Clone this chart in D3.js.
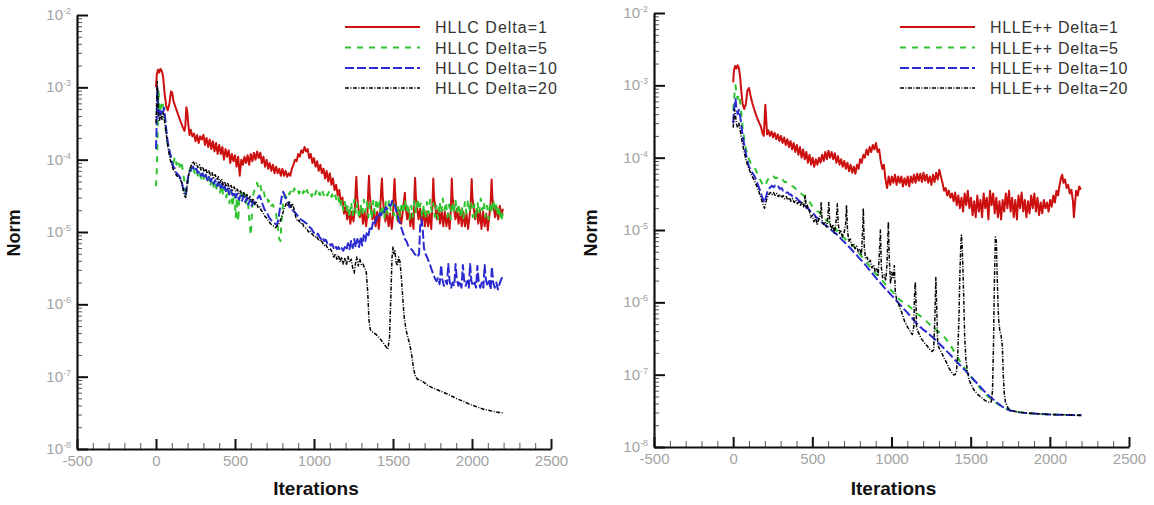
<!DOCTYPE html>
<html>
<head>
<meta charset="utf-8">
<script src="https://cdn.jsdelivr.net/npm/d3@7"></script>
<style>
  html, body { margin: 0; padding: 0; background: #fff; }
  svg { display: block; }
</style>
</head>
<body>
<svg id="chart" width="1154" height="505"></svg>
<script>
// ---------------- DATA ----------------
const xTicksMajor = [-500, 0, 500, 1000, 1500, 2000, 2500];
const yDecades = [-8, -7, -6, -5, -4, -3, -2];
const xLabel = "Iterations";
const yLabel = "Norm";
const leftNames = ["HLLC Delta=1", "HLLC Delta=5", "HLLC Delta=10", "HLLC Delta=20"];
const rightNames = ["HLLE++ Delta=1", "HLLE++ Delta=5", "HLLE++ Delta=10", "HLLE++ Delta=20"];

// Left panel series: [iteration, norm]
const hllc1 = [[0,1.0e-3],[5,1.5e-3],[12,1.75e-3],[20,1.6e-3],[28,1.8e-3],[38,1.65e-3],[45,1.4e-3],[55,8e-4],[65,5.5e-4],[75,4.8e-4],[85,6e-4],[95,8.8e-4],[102,8.5e-4],[110,6.5e-4],[125,5.2e-4],[140,4.2e-4],[155,3.4e-4],[170,2.8e-4],[180,2.5e-4],[186,3.0e-4],[192,5.3e-4],[198,4.6e-4],[205,3.0e-4],[212,2.2e-4],[220,2.6e-4],[230,2.1e-4],[240,2.3e-4],[250,1.8e-4],[260,2.2e-4],[270,1.7e-4],[280,2.1e-4],[290,1.9e-4],[300,2.2e-4],[310,1.6e-4],[320,2.0e-4],[330,1.5e-4],[340,1.9e-4],[350,1.4e-4],[360,1.8e-4],[370,1.3e-4],[380,1.7e-4],[390,1.2e-4],[400,1.6e-4],[410,1.2e-4],[420,1.5e-4],[430,1.0e-4],[440,1.4e-4],[450,1.1e-4],[460,1.35e-4],[470,9e-5],[480,1.2e-4],[490,9.5e-5],[500,1.15e-4],[510,8e-5],[520,1.1e-4],[530,6e-5],[540,1.0e-4],[550,8.5e-5],[560,1.1e-4],[570,9e-5],[580,1.15e-4],[590,8.5e-5],[600,1.2e-4],[610,9.5e-5],[620,1.25e-4],[630,1.0e-4],[640,1.3e-4],[650,1.05e-4],[660,1.25e-4],[670,9e-5],[680,1.1e-4],[690,8e-5],[700,1.0e-4],[710,7.5e-5],[720,9e-5],[730,7e-5],[740,8.5e-5],[750,6.5e-5],[760,8e-5],[770,6.5e-5],[780,7.5e-5],[790,6e-5],[800,7.5e-5],[810,6e-5],[820,7e-5],[830,5.8e-5],[840,6.5e-5],[850,6e-5],[860,7.5e-5],[870,8.5e-5],[880,1.0e-4],[890,9.5e-5],[900,1.2e-4],[910,1.1e-4],[920,1.35e-4],[930,1.25e-4],[940,1.5e-4],[950,1.3e-4],[960,1.4e-4],[970,1.05e-4],[980,1.2e-4],[990,9e-5],[1000,1.05e-4],[1010,8e-5],[1020,9.5e-5],[1030,7e-5],[1040,8.5e-5],[1050,6.5e-5],[1060,7.5e-5],[1070,5.5e-5],[1080,7e-5],[1090,5e-5],[1100,6.5e-5],[1110,4.5e-5],[1120,5.5e-5],[1130,3.8e-5],[1140,4.5e-5],[1150,3.2e-5],[1160,3.8e-5],[1170,2.5e-5],[1180,3e-5],[1190,1.8e-5],[1200,2.2e-5],[1210,1.5e-5],[1220,2.0e-5],[1230,1.3e-5],[1240,1.9e-5],[1250,1.4e-5],[1258,2.0e-5],[1264,4e-5],[1268,5.8e-5],[1273,3.2e-5],[1280,2.2e-5],[1290,1.6e-5],[1300,2.1e-5],[1310,1.3e-5],[1320,1.9e-5],[1330,1.2e-5],[1338,1.8e-5],[1344,4e-5],[1348,6e-5],[1353,3.2e-5],[1360,2.3e-5],[1370,1.5e-5],[1380,2.0e-5],[1390,1.2e-5],[1400,1.9e-5],[1410,1.1e-5],[1418,1.8e-5],[1425,3.8e-5],[1430,5.5e-5],[1435,3e-5],[1442,2.2e-5],[1452,1.4e-5],[1462,2.0e-5],[1472,1.2e-5],[1482,1.8e-5],[1492,1.1e-5],[1500,1.7e-5],[1506,3.8e-5],[1510,5.4e-5],[1515,3e-5],[1522,2.1e-5],[1532,1.4e-5],[1542,2e-5],[1552,1.3e-5],[1562,1.9e-5],[1570,2.8e-5],[1575,3.5e-5],[1580,2.2e-5],[1590,1.5e-5],[1600,2e-5],[1610,1.2e-5],[1620,1.8e-5],[1630,1.1e-5],[1636,3.5e-5],[1640,5.6e-5],[1645,3e-5],[1652,2.2e-5],[1662,1.5e-5],[1672,2.1e-5],[1682,1.3e-5],[1692,2e-5],[1702,1.2e-5],[1712,1.9e-5],[1722,1.2e-5],[1732,1.8e-5],[1742,1.1e-5],[1750,2.5e-5],[1755,5.5e-5],[1760,3e-5],[1768,2.2e-5],[1778,1.5e-5],[1788,2.1e-5],[1798,1.3e-5],[1808,2.0e-5],[1818,1.2e-5],[1828,1.9e-5],[1838,1.2e-5],[1848,1.8e-5],[1858,1.1e-5],[1866,2e-5],[1872,5.5e-5],[1877,3e-5],[1885,2.2e-5],[1895,1.5e-5],[1905,2.1e-5],[1915,1.3e-5],[1925,2e-5],[1935,1.2e-5],[1945,1.9e-5],[1955,1.2e-5],[1965,1.8e-5],[1975,1.1e-5],[1985,1.7e-5],[1992,2.5e-5],[1998,5.4e-5],[2003,3e-5],[2010,2.2e-5],[2020,1.5e-5],[2030,2.1e-5],[2040,1.3e-5],[2050,2e-5],[2060,1.1e-5],[2070,1.9e-5],[2080,1.2e-5],[2090,1.8e-5],[2100,1.05e-5],[2110,1.7e-5],[2118,2.5e-5],[2124,5.3e-5],[2129,3e-5],[2136,2.3e-5],[2146,1.6e-5],[2156,2.2e-5],[2166,1.5e-5],[2176,2.3e-5],[2186,1.7e-5],[2196,2.1e-5]];

const hllc5 = [[0,4.3e-5],[4,6e-5],[8,1.3e-4],[12,4e-4],[16,9e-4],[20,6e-4],[25,4.5e-4],[32,5.5e-4],[40,6.5e-4],[48,5e-4],[55,3.5e-4],[62,2.5e-4],[70,1.8e-4],[80,1.4e-4],[90,1.2e-4],[100,1.05e-4],[110,9e-5],[120,1.1e-4],[130,8.5e-5],[140,1.0e-4],[150,8e-5],[160,9.5e-5],[170,7e-5],[180,5e-5],[188,3e-5],[195,4.5e-5],[205,6e-5],[215,7.5e-5],[225,7e-5],[235,8e-5],[245,6.5e-5],[255,7.5e-5],[265,6e-5],[275,7e-5],[285,5.5e-5],[295,6.5e-5],[305,5e-5],[315,6.2e-5],[325,4.8e-5],[335,5.8e-5],[345,4.5e-5],[355,5.5e-5],[365,4.2e-5],[375,5e-5],[385,3.8e-5],[395,4.8e-5],[405,3.5e-5],[415,4.5e-5],[425,3.2e-5],[435,4.2e-5],[445,3e-5],[455,4e-5],[465,2.5e-5],[475,3.8e-5],[485,2.2e-5],[495,3.5e-5],[505,1.6e-5],[512,3e-5],[520,1.4e-5],[528,3e-5],[540,3.5e-5],[550,2.8e-5],[560,3.4e-5],[570,2.5e-5],[580,3e-5],[590,1.5e-5],[600,9e-6],[608,2e-5],[618,3.5e-5],[630,4.2e-5],[640,4.8e-5],[650,4.0e-5],[660,4.5e-5],[670,3.5e-5],[680,3.8e-5],[690,3e-5],[700,3.2e-5],[710,2.6e-5],[720,2.8e-5],[730,2.3e-5],[740,2.4e-5],[750,2e-5],[760,1.8e-5],[770,1.2e-5],[780,8e-6],[788,7.5e-6],[795,1.5e-5],[805,2.6e-5],[815,3.2e-5],[825,3e-5],[835,3.6e-5],[845,3.3e-5],[855,3.8e-5],[865,3.4e-5],[875,4e-5],[885,3.6e-5],[895,3.9e-5],[905,3.4e-5],[915,3.8e-5],[925,3.3e-5],[935,3.7e-5],[945,3.2e-5],[955,3.8e-5],[965,3.3e-5],[975,3.6e-5],[985,3.1e-5],[995,3.6e-5],[1005,3.2e-5],[1015,3.7e-5],[1025,3.1e-5],[1035,3.5e-5],[1045,3e-5],[1055,3.6e-5],[1065,3.1e-5],[1075,3.5e-5],[1085,3.2e-5],[1095,3.6e-5],[1105,3e-5],[1115,3.3e-5],[1125,2.8e-5],[1135,3.2e-5],[1145,2.6e-5],[1155,3e-5],[1165,2.2e-5],[1175,2.8e-5],[1185,2e-5],[1195,2.6e-5],[1205,1.9e-5],[1215,2.4e-5],[1225,1.6e-5],[1235,2.6e-5],[1245,1.7e-5],[1255,2.8e-5],[1265,1.8e-5],[1275,2.5e-5],[1285,1.5e-5],[1295,2.4e-5],[1305,1.7e-5],[1315,2.8e-5],[1325,1.9e-5],[1335,2.6e-5],[1345,1.6e-5],[1355,2.5e-5],[1365,1.5e-5],[1375,2.7e-5],[1385,1.8e-5],[1395,2.9e-5],[1405,2e-5],[1415,2.6e-5],[1425,1.6e-5],[1435,2.4e-5],[1445,1.5e-5],[1455,2.6e-5],[1465,1.8e-5],[1475,2.8e-5],[1485,2e-5],[1495,2.6e-5],[1505,1.7e-5],[1515,2.4e-5],[1525,1.5e-5],[1535,2.3e-5],[1545,1.6e-5],[1555,2.6e-5],[1565,1.8e-5],[1575,2.8e-5],[1585,1.9e-5],[1595,2.5e-5],[1605,1.5e-5],[1615,2.3e-5],[1625,1.6e-5],[1635,2.7e-5],[1645,1.8e-5],[1655,2.9e-5],[1665,2e-5],[1675,2.5e-5],[1685,1.6e-5],[1695,2.4e-5],[1705,1.5e-5],[1715,2.6e-5],[1725,1.8e-5],[1735,2.8e-5],[1745,1.9e-5],[1755,2.5e-5],[1765,1.6e-5],[1775,2.3e-5],[1785,1.5e-5],[1795,2.6e-5],[1805,1.8e-5],[1815,2.9e-5],[1825,2e-5],[1835,2.6e-5],[1845,1.6e-5],[1855,2.4e-5],[1865,1.5e-5],[1875,2.6e-5],[1885,1.8e-5],[1895,2.8e-5],[1905,1.9e-5],[1915,2.5e-5],[1925,1.6e-5],[1935,2.3e-5],[1945,1.5e-5],[1955,2.6e-5],[1965,1.8e-5],[1975,2.8e-5],[1985,2e-5],[1995,2.5e-5],[2005,1.6e-5],[2015,2.4e-5],[2025,1.5e-5],[2035,2.6e-5],[2045,1.8e-5],[2055,2.9e-5],[2065,2e-5],[2075,2.6e-5],[2085,1.6e-5],[2095,2.3e-5],[2105,1.5e-5],[2115,2.6e-5],[2125,1.8e-5],[2135,2.8e-5],[2145,1.9e-5],[2155,2.5e-5],[2165,1.6e-5],[2175,2.2e-5],[2185,1.4e-5],[2195,1.8e-5]];

const hllc10 = [[0,1.4e-4],[4,3e-4],[8,1.0e-3],[12,6e-4],[16,4e-4],[22,4.8e-4],[30,4.2e-4],[38,5e-4],[45,4.5e-4],[52,5.2e-4],[58,3.8e-4],[65,2.6e-4],[72,1.9e-4],[80,1.5e-4],[90,1.2e-4],[100,9.5e-5],[110,8e-5],[120,7.5e-5],[130,6.5e-5],[140,6.2e-5],[150,5.8e-5],[160,5.2e-5],[170,4.2e-5],[180,3.5e-5],[188,3.3e-5],[196,4.5e-5],[205,6e-5],[215,7e-5],[225,7.5e-5],[235,8e-5],[245,7e-5],[255,7.5e-5],[265,6.5e-5],[275,7e-5],[285,6e-5],[295,6.5e-5],[305,5.5e-5],[315,6.2e-5],[325,5.2e-5],[335,5.8e-5],[345,5e-5],[355,5.5e-5],[365,4.6e-5],[375,5.2e-5],[385,4.3e-5],[395,4.9e-5],[405,4e-5],[415,4.6e-5],[425,3.8e-5],[435,4.3e-5],[445,3.5e-5],[455,4e-5],[465,3.3e-5],[475,3.8e-5],[485,3.2e-5],[495,3.6e-5],[505,3e-5],[515,3.4e-5],[525,2.8e-5],[535,3.2e-5],[545,2.7e-5],[555,3.2e-5],[565,2.6e-5],[575,3e-5],[585,2.4e-5],[595,2.8e-5],[605,2.3e-5],[615,2.6e-5],[625,2.5e-5],[635,2.8e-5],[645,3.0e-5],[655,3.2e-5],[665,2.8e-5],[675,2.4e-5],[685,2.1e-5],[695,1.9e-5],[705,1.8e-5],[715,1.6e-5],[725,1.5e-5],[735,1.4e-5],[745,1.35e-5],[755,1.3e-5],[765,1.25e-5],[775,1.5e-5],[785,2.2e-5],[795,3e-5],[805,3.6e-5],[815,3.2e-5],[825,2.8e-5],[835,2.6e-5],[845,2.2e-5],[855,2.3e-5],[865,2e-5],[875,1.9e-5],[885,1.8e-5],[895,1.7e-5],[905,1.6e-5],[915,1.5e-5],[925,1.45e-5],[935,1.4e-5],[945,1.35e-5],[955,1.3e-5],[965,1.2e-5],[975,1.15e-5],[985,1.1e-5],[995,1.0e-5],[1005,9.5e-6],[1015,9e-6],[1025,9.5e-6],[1035,8.5e-6],[1045,8e-6],[1055,8.5e-6],[1065,7.5e-6],[1075,7.8e-6],[1085,7e-6],[1095,7.2e-6],[1105,6.5e-6],[1115,6.8e-6],[1125,6e-6],[1135,6.5e-6],[1145,5.8e-6],[1155,6.2e-6],[1165,5.6e-6],[1175,6e-6],[1185,5.5e-6],[1195,6.2e-6],[1205,5.6e-6],[1215,7e-6],[1225,5.8e-6],[1235,7.5e-6],[1245,6e-6],[1255,8e-6],[1265,6.2e-6],[1275,8e-6],[1285,6.2e-6],[1295,8.5e-6],[1305,6.5e-6],[1315,9e-6],[1325,7.5e-6],[1335,1.0e-5],[1345,9e-6],[1355,1.2e-5],[1365,1.1e-5],[1375,1.4e-5],[1385,1.3e-5],[1395,1.6e-5],[1405,1.5e-5],[1415,1.8e-5],[1425,1.7e-5],[1435,2.0e-5],[1445,1.9e-5],[1455,2.2e-5],[1465,2.1e-5],[1475,2.4e-5],[1485,2.3e-5],[1495,2.7e-5],[1505,2.6e-5],[1515,2.2e-5],[1525,1.8e-5],[1535,1.5e-5],[1545,1.3e-5],[1555,1.1e-5],[1565,9.5e-6],[1575,8e-6],[1585,7.5e-6],[1595,6.5e-6],[1605,6.2e-6],[1615,5.8e-6],[1625,5.5e-6],[1635,5e-6],[1645,4.8e-6],[1655,4.5e-6],[1665,5e-6],[1672,1.2e-5],[1680,1.5e-5],[1688,1.1e-5],[1696,6e-6],[1705,5e-6],[1715,4.5e-6],[1725,4e-6],[1735,3.5e-6],[1745,3e-6],[1755,2.6e-6],[1765,2.3e-6],[1775,2.1e-6],[1785,2.3e-6],[1795,1.9e-6],[1805,3.5e-6],[1812,2.2e-6],[1822,1.8e-6],[1832,2.1e-6],[1842,1.9e-6],[1850,3.6e-6],[1858,2.1e-6],[1868,1.7e-6],[1878,2e-6],[1888,1.8e-6],[1896,3.6e-6],[1904,2.2e-6],[1914,1.8e-6],[1924,2.1e-6],[1934,1.7e-6],[1942,3.5e-6],[1950,2.2e-6],[1960,1.8e-6],[1970,2.1e-6],[1980,1.7e-6],[1988,3.6e-6],[1996,2.1e-6],[2006,1.8e-6],[2016,2e-6],[2026,1.7e-6],[2034,3.4e-6],[2042,2.1e-6],[2052,1.7e-6],[2062,2e-6],[2072,1.7e-6],[2080,3.5e-6],[2088,2.2e-6],[2098,1.8e-6],[2108,2.1e-6],[2118,1.6e-6],[2126,3.3e-6],[2134,2e-6],[2144,1.7e-6],[2154,2e-6],[2164,1.6e-6],[2174,1.9e-6],[2184,2.2e-6],[2194,2.4e-6]];

const hllc20 = [[0,3.2e-4],[4,6e-4],[8,1.2e-3],[12,7e-4],[16,4e-4],[22,3.5e-4],[30,4.2e-4],[38,3.6e-4],[45,4.4e-4],[52,3.8e-4],[58,3e-4],[65,2.3e-4],[72,1.7e-4],[80,1.3e-4],[90,1.0e-4],[100,8.5e-5],[110,7.2e-5],[120,6.8e-5],[130,6e-5],[140,5.8e-5],[150,5.5e-5],[160,5e-5],[170,4e-5],[180,3.2e-5],[188,3e-5],[196,4.2e-5],[205,5.8e-5],[215,7.5e-5],[225,8.5e-5],[235,9.5e-5],[245,8.5e-5],[255,9e-5],[265,7.8e-5],[275,8.5e-5],[285,7.2e-5],[295,8e-5],[305,6.8e-5],[315,7.5e-5],[325,6.4e-5],[335,7e-5],[345,6e-5],[355,6.6e-5],[365,5.6e-5],[375,6.2e-5],[385,5.2e-5],[395,5.8e-5],[405,4.8e-5],[415,5.4e-5],[425,4.5e-5],[435,5e-5],[445,4.2e-5],[455,4.7e-5],[465,4e-5],[475,4.4e-5],[485,3.8e-5],[495,4.2e-5],[505,3.6e-5],[515,3.9e-5],[525,3.4e-5],[535,3.7e-5],[545,3.2e-5],[555,3.5e-5],[565,3e-5],[575,3.3e-5],[585,2.8e-5],[595,3.1e-5],[605,2.6e-5],[615,2.9e-5],[625,2.4e-5],[635,2.6e-5],[645,2.2e-5],[655,2.3e-5],[665,2e-5],[675,1.9e-5],[685,1.7e-5],[695,1.6e-5],[705,1.5e-5],[715,1.4e-5],[725,1.3e-5],[735,1.25e-5],[745,1.2e-5],[755,1.15e-5],[765,1.2e-5],[775,1.25e-5],[785,1.4e-5],[795,1.6e-5],[805,1.9e-5],[815,2.2e-5],[825,2.5e-5],[835,2.3e-5],[845,2.6e-5],[855,2.2e-5],[865,2.5e-5],[875,2e-5],[885,1.6e-5],[895,1.4e-5],[905,1.45e-5],[915,1.3e-5],[925,1.35e-5],[935,1.2e-5],[945,1.15e-5],[955,1.1e-5],[965,1.0e-5],[975,1.05e-5],[985,9.5e-6],[995,9e-6],[1005,8.5e-6],[1015,8.8e-6],[1025,8e-6],[1035,7.5e-6],[1045,7.8e-6],[1055,7e-6],[1065,6.5e-6],[1075,6.8e-6],[1085,6e-6],[1095,5.6e-6],[1105,5.8e-6],[1115,5.2e-6],[1125,4.5e-6],[1135,5e-6],[1145,4.2e-6],[1155,4.8e-6],[1165,3.8e-6],[1175,4.5e-6],[1185,3.6e-6],[1195,4.3e-6],[1205,3.5e-6],[1215,4.6e-6],[1225,3.8e-6],[1235,4.2e-6],[1245,3.2e-6],[1255,2.7e-6],[1262,3.6e-6],[1270,4.5e-6],[1280,3.4e-6],[1290,4.2e-6],[1300,3.5e-6],[1310,3.6e-6],[1320,3.2e-6],[1330,2.9e-6],[1340,1.5e-6],[1348,6e-7],[1356,4.5e-7],[1366,4.2e-7],[1380,4e-7],[1395,3.8e-7],[1410,3.5e-7],[1425,3.2e-7],[1440,2.9e-7],[1455,2.6e-7],[1468,2.4e-7],[1478,3.5e-7],[1486,1.2e-6],[1494,4.5e-6],[1500,6.2e-6],[1506,5e-6],[1512,5.5e-6],[1520,3.8e-6],[1528,3.4e-6],[1536,4.5e-6],[1544,3.9e-6],[1552,2.5e-6],[1560,1.4e-6],[1570,7e-7],[1582,4.5e-7],[1594,3.5e-7],[1606,2.8e-7],[1618,2e-7],[1630,1.3e-7],[1642,1.0e-7],[1655,9.2e-8],[1668,9e-8],[1680,8.8e-8],[1700,8.2e-8],[1720,7.6e-8],[1750,7e-8],[1780,6.6e-8],[1810,6.2e-8],[1840,5.8e-8],[1870,5.4e-8],[1900,5e-8],[1930,4.7e-8],[1960,4.4e-8],[1990,4.1e-8],[2020,3.9e-8],[2050,3.7e-8],[2080,3.5e-8],[2110,3.4e-8],[2140,3.3e-8],[2170,3.2e-8],[2200,3.15e-8]];

// Right panel series
const hlle1 = [[0,1.1e-3],[5,1.6e-3],[12,1.85e-3],[20,1.7e-3],[28,1.9e-3],[36,1.75e-3],[44,1.3e-3],[52,8e-4],[60,5.5e-4],[70,4.7e-4],[80,5.5e-4],[90,8.5e-4],[100,9.2e-4],[108,7.5e-4],[120,5.8e-4],[135,4.5e-4],[150,3.6e-4],[165,3e-4],[175,2.7e-4],[185,2.2e-4],[193,2.0e-4],[199,3.5e-4],[203,5.4e-4],[208,3.6e-4],[214,2.1e-4],[222,2.4e-4],[232,2.0e-4],[242,2.3e-4],[252,1.9e-4],[262,2.2e-4],[272,1.8e-4],[282,2.1e-4],[292,1.7e-4],[302,2.0e-4],[312,1.6e-4],[322,1.9e-4],[332,1.5e-4],[342,1.8e-4],[352,1.4e-4],[362,1.7e-4],[372,1.3e-4],[382,1.6e-4],[392,1.2e-4],[402,1.5e-4],[412,1.1e-4],[422,1.4e-4],[432,1.0e-4],[442,1.3e-4],[452,9.5e-5],[462,1.2e-4],[472,8.5e-5],[482,1.1e-4],[492,8e-5],[502,1.0e-4],[512,7.5e-5],[522,9.5e-5],[532,8e-5],[542,1.0e-4],[552,8.5e-5],[562,1.1e-4],[572,9e-5],[582,1.2e-4],[592,9.5e-5],[602,1.25e-4],[612,1.0e-4],[622,1.2e-4],[632,9.5e-5],[642,1.15e-4],[652,8.5e-5],[662,1.05e-4],[672,8e-5],[682,9.5e-5],[692,7.5e-5],[702,9e-5],[712,7e-5],[722,8.5e-5],[732,6.5e-5],[742,8e-5],[752,6.2e-5],[762,7.5e-5],[772,6e-5],[782,8e-5],[792,7e-5],[802,9.5e-5],[812,8.5e-5],[822,1.1e-4],[832,1.0e-4],[842,1.3e-4],[852,1.1e-4],[862,1.4e-4],[872,1.2e-4],[882,1.5e-4],[892,1.3e-4],[902,1.6e-4],[912,1.2e-4],[922,1.3e-4],[932,9e-5],[942,7e-5],[952,8e-5],[962,5e-5],[972,3.8e-5],[982,5.5e-5],[992,4.2e-5],[1002,5.5e-5],[1012,4.5e-5],[1022,5.8e-5],[1032,4.2e-5],[1042,5.5e-5],[1052,4.5e-5],[1062,5.5e-5],[1072,4e-5],[1082,5.2e-5],[1092,4.2e-5],[1102,5.5e-5],[1112,4e-5],[1122,5.5e-5],[1132,4.5e-5],[1142,5.8e-5],[1152,4.5e-5],[1162,6e-5],[1172,4.8e-5],[1182,6e-5],[1192,4.6e-5],[1202,6.2e-5],[1212,4.8e-5],[1222,5.8e-5],[1232,4.5e-5],[1242,5.5e-5],[1252,4.2e-5],[1262,5.8e-5],[1272,4.6e-5],[1282,6.2e-5],[1292,5e-5],[1302,6.8e-5],[1312,5.5e-5],[1322,4.5e-5],[1332,3.5e-5],[1342,3.8e-5],[1352,3e-5],[1362,3.5e-5],[1372,2.8e-5],[1382,3.2e-5],[1392,2.5e-5],[1402,3.3e-5],[1412,2.2e-5],[1422,3e-5],[1432,2e-5],[1442,2.8e-5],[1452,1.8e-5],[1462,3.2e-5],[1472,2.2e-5],[1482,3.5e-5],[1492,2e-5],[1502,2.8e-5],[1512,1.6e-5],[1522,2.5e-5],[1532,1.5e-5],[1542,3e-5],[1552,1.8e-5],[1562,2.6e-5],[1572,1.5e-5],[1582,3.2e-5],[1592,2e-5],[1602,2.8e-5],[1612,1.4e-5],[1622,3.5e-5],[1632,2.2e-5],[1642,3.2e-5],[1652,1.7e-5],[1662,2.8e-5],[1672,1.5e-5],[1682,2.5e-5],[1692,1.4e-5],[1702,2.6e-5],[1712,1.8e-5],[1722,3.2e-5],[1732,2e-5],[1742,3.5e-5],[1752,1.8e-5],[1762,2.8e-5],[1772,1.5e-5],[1782,2.6e-5],[1792,1.4e-5],[1802,3e-5],[1812,2e-5],[1822,3.3e-5],[1832,1.8e-5],[1842,2.6e-5],[1852,1.5e-5],[1862,2.5e-5],[1872,1.7e-5],[1882,3e-5],[1892,2e-5],[1902,3.2e-5],[1912,1.8e-5],[1922,2.8e-5],[1932,1.6e-5],[1942,2.4e-5],[1952,1.7e-5],[1962,2.6e-5],[1972,2e-5],[1982,2.4e-5],[1992,1.8e-5],[2002,2.6e-5],[2012,2.1e-5],[2022,3e-5],[2032,2.4e-5],[2042,3.5e-5],[2052,3e-5],[2062,4.2e-5],[2070,5.2e-5],[2078,5.8e-5],[2086,4.5e-5],[2096,5e-5],[2106,3.8e-5],[2116,4.2e-5],[2126,3.2e-5],[2136,3.6e-5],[2146,2.5e-5],[2152,1.5e-5],[2158,2.2e-5],[2166,3.5e-5],[2176,3e-5],[2186,4e-5],[2196,3.6e-5]];

const hlle5 = [[0,4.5e-4],[5,6e-4],[10,8.5e-4],[15,1.0e-3],[20,8e-4],[28,6.5e-4],[36,7.5e-4],[44,6e-4],[52,4e-4],[60,2.6e-4],[70,1.8e-4],[80,1.35e-4],[90,1.1e-4],[100,9.5e-5],[110,8.5e-5],[120,8e-5],[130,7.5e-5],[140,7e-5],[150,6.2e-5],[160,5.5e-5],[170,5e-5],[180,4.5e-5],[190,4.2e-5],[198,4.0e-5],[206,4.3e-5],[215,4.8e-5],[225,5.2e-5],[235,5.4e-5],[245,5.2e-5],[255,5.5e-5],[265,5.2e-5],[275,5.3e-5],[285,5e-5],[295,5.1e-5],[305,4.8e-5],[315,4.9e-5],[325,4.6e-5],[335,4.6e-5],[345,4.4e-5],[355,4.4e-5],[365,4.2e-5],[375,4.0e-5],[385,3.9e-5],[395,3.7e-5],[405,3.6e-5],[415,3.4e-5],[425,3.3e-5],[435,3.1e-5],[445,3.0e-5],[455,2.8e-5],[465,2.7e-5],[475,2.5e-5],[485,2.4e-5],[495,2.2e-5],[505,2.1e-5],[515,2.0e-5],[525,1.9e-5],[535,1.8e-5],[545,1.75e-5],[555,1.65e-5],[565,1.55e-5],[575,1.45e-5],[585,1.4e-5],[600,1.3e-5],[620,1.2e-5],[640,1.1e-5],[660,9.5e-6],[680,8.5e-6],[700,7.8e-6],[720,7e-6],[740,6.5e-6],[760,6e-6],[780,5.2e-6],[800,4.6e-6],[820,4.1e-6],[840,3.6e-6],[860,3.2e-6],[880,2.8e-6],[900,2.5e-6],[920,2.2e-6],[940,2.0e-6],[960,1.8e-6],[980,1.6e-6],[1000,1.45e-6],[1020,1.3e-6],[1040,1.15e-6],[1060,1.05e-6],[1080,9.8e-7],[1100,9.2e-7],[1120,8.5e-7],[1140,7.8e-7],[1160,7e-7],[1180,6.5e-7],[1200,6e-7],[1220,5.5e-7],[1240,5e-7],[1260,4.6e-7],[1280,4.2e-7],[1300,3.9e-7],[1320,3.5e-7],[1340,3.2e-7],[1360,2.8e-7],[1380,2.4e-7],[1400,2.0e-7],[1420,1.7e-7],[1440,1.45e-7],[1460,1.25e-7],[1480,1.1e-7],[1500,9.5e-8],[1520,8.3e-8],[1540,7.3e-8],[1560,6.5e-8],[1580,5.8e-8],[1600,5.2e-8],[1620,4.8e-8],[1640,4.4e-8],[1660,4.1e-8],[1680,3.8e-8],[1700,3.6e-8],[1720,3.4e-8],[1750,3.2e-8],[1800,3.05e-8],[1850,2.95e-8],[1900,2.9e-8],[1950,2.85e-8],[2000,2.82e-8],[2050,2.8e-8],[2100,2.78e-8],[2150,2.76e-8],[2200,2.75e-8]];

const hlle10 = [[0,3e-4],[5,4.5e-4],[10,5.5e-4],[15,6.5e-4],[20,5e-4],[28,4e-4],[36,4.6e-4],[44,3.8e-4],[52,2.8e-4],[60,2e-4],[70,1.5e-4],[80,1.15e-4],[90,9e-5],[100,7.5e-5],[110,6.8e-5],[120,6.2e-5],[130,5.8e-5],[140,5.2e-5],[150,4.6e-5],[160,4e-5],[170,3.5e-5],[180,3e-5],[190,2.6e-5],[198,2.4e-5],[206,2.8e-5],[215,3.3e-5],[225,3.7e-5],[235,3.9e-5],[245,4.1e-5],[255,3.9e-5],[265,4.1e-5],[275,3.9e-5],[285,4e-5],[295,3.7e-5],[305,3.8e-5],[315,3.5e-5],[325,3.5e-5],[335,3.3e-5],[345,3.3e-5],[355,3.1e-5],[365,3.1e-5],[375,2.9e-5],[385,2.9e-5],[395,2.8e-5],[405,2.7e-5],[415,2.55e-5],[425,2.45e-5],[435,2.35e-5],[445,2.25e-5],[455,2.15e-5],[465,2.05e-5],[475,1.95e-5],[485,1.85e-5],[495,1.8e-5],[505,1.7e-5],[515,1.6e-5],[525,1.5e-5],[535,1.45e-5],[545,1.4e-5],[555,1.3e-5],[565,1.25e-5],[575,1.2e-5],[585,1.15e-5],[600,1.1e-5],[620,1.0e-5],[640,9.2e-6],[660,8.5e-6],[680,7.6e-6],[700,6.9e-6],[720,6.2e-6],[740,5.6e-6],[760,5e-6],[780,4.5e-6],[800,4e-6],[820,3.6e-6],[840,3.2e-6],[860,2.8e-6],[880,2.5e-6],[900,2.2e-6],[920,1.95e-6],[940,1.75e-6],[960,1.55e-6],[980,1.4e-6],[1000,1.25e-6],[1020,1.12e-6],[1040,1.0e-6],[1060,9e-7],[1080,8e-7],[1100,7.2e-7],[1120,6.4e-7],[1140,5.7e-7],[1160,5.1e-7],[1180,4.6e-7],[1200,4.2e-7],[1220,3.9e-7],[1240,3.6e-7],[1260,3.3e-7],[1280,3e-7],[1300,2.7e-7],[1320,2.45e-7],[1340,2.2e-7],[1360,2e-7],[1380,1.8e-7],[1400,1.6e-7],[1420,1.45e-7],[1440,1.3e-7],[1460,1.18e-7],[1480,1.05e-7],[1500,9.5e-8],[1520,8.5e-8],[1540,7.6e-8],[1560,6.8e-8],[1580,6.1e-8],[1600,5.5e-8],[1620,5e-8],[1640,4.6e-8],[1660,4.2e-8],[1680,3.9e-8],[1700,3.6e-8],[1720,3.4e-8],[1750,3.2e-8],[1800,3.05e-8],[1850,2.95e-8],[1900,2.9e-8],[1950,2.85e-8],[2000,2.82e-8],[2050,2.8e-8],[2100,2.78e-8],[2150,2.76e-8],[2200,2.75e-8]];

const hlle20 = [[0,2.6e-4],[5,3.5e-4],[10,4.6e-4],[15,3.8e-4],[20,3e-4],[28,2.6e-4],[36,3e-4],[44,2.4e-4],[52,1.9e-4],[60,1.5e-4],[70,1.2e-4],[80,9.5e-5],[90,8e-5],[100,7e-5],[110,6.2e-5],[120,5.5e-5],[130,5e-5],[140,4.5e-5],[150,4e-5],[160,3.5e-5],[170,3e-5],[180,2.6e-5],[190,2.2e-5],[198,2.0e-5],[206,2.4e-5],[215,2.8e-5],[225,3.1e-5],[235,3.3e-5],[245,3.1e-5],[255,3.3e-5],[265,3e-5],[275,3.2e-5],[285,2.9e-5],[295,3.1e-5],[305,2.8e-5],[315,3e-5],[325,2.7e-5],[335,2.9e-5],[345,2.6e-5],[355,2.8e-5],[365,2.5e-5],[375,2.7e-5],[385,2.4e-5],[395,2.6e-5],[405,2.3e-5],[415,2.5e-5],[425,2.2e-5],[435,2.4e-5],[445,2.1e-5],[455,3e-5],[462,2.0e-5],[470,2.2e-5],[480,1.9e-5],[490,1.5e-5],[500,1.6e-5],[510,1.3e-5],[520,1.5e-5],[530,1.2e-5],[540,1.4e-5],[550,1.6e-5],[556,2.4e-5],[562,1.3e-5],[570,1.2e-5],[580,1.3e-5],[590,1.1e-5],[598,1.5e-5],[604,2.4e-5],[610,1.3e-5],[620,1.0e-5],[630,1.2e-5],[640,9e-6],[650,1.3e-5],[658,2.3e-5],[664,1.2e-5],[672,9e-6],[680,1.0e-5],[690,8e-6],[700,9e-6],[710,1.2e-5],[716,2.2e-5],[722,1.0e-5],[730,7e-6],[740,7.5e-6],[750,6e-6],[760,6.5e-6],[770,5.5e-6],[780,6e-6],[790,5e-6],[800,5.5e-6],[810,4.5e-6],[816,8e-6],[822,2.0e-5],[828,6e-6],[836,4e-6],[846,4.2e-6],[856,3.5e-6],[866,3.8e-6],[876,3e-6],[886,3.3e-6],[896,2.7e-6],[906,3e-6],[916,2.4e-6],[924,5e-6],[930,1.0e-5],[936,3e-6],[944,2.2e-6],[954,2.4e-6],[964,2e-6],[972,3.5e-6],[980,1.3e-5],[986,4e-6],[994,1.8e-6],[1002,2.6e-6],[1010,2.2e-6],[1018,3.2e-6],[1024,1.4e-6],[1032,1.1e-6],[1042,1.0e-6],[1052,8.5e-7],[1062,7.5e-7],[1072,6.5e-7],[1082,5.5e-7],[1092,5e-7],[1102,4.5e-7],[1112,4.2e-7],[1122,3.8e-7],[1132,3.6e-7],[1140,4.5e-7],[1146,1.3e-6],[1150,1.9e-6],[1154,1.2e-6],[1158,4.5e-7],[1166,4e-7],[1176,3.6e-7],[1186,3.2e-7],[1196,3e-7],[1206,2.8e-7],[1216,2.6e-7],[1226,2.5e-7],[1236,2.3e-7],[1246,2.2e-7],[1256,2.1e-7],[1266,2.2e-7],[1274,6e-7],[1280,2.2e-6],[1286,8e-7],[1292,2.6e-7],[1302,2.3e-7],[1312,2.1e-7],[1322,1.9e-7],[1332,1.7e-7],[1342,1.55e-7],[1352,1.4e-7],[1362,1.25e-7],[1372,1.15e-7],[1382,1.05e-7],[1392,1.0e-7],[1402,1.0e-7],[1410,1.1e-7],[1418,1.8e-7],[1426,6e-7],[1432,2.5e-6],[1438,6.5e-6],[1442,8.5e-6],[1446,6e-6],[1450,3.5e-6],[1456,1.2e-6],[1462,3.5e-7],[1470,1.6e-7],[1480,1.1e-7],[1490,8.5e-8],[1500,7.5e-8],[1510,6.8e-8],[1520,6.2e-8],[1530,5.8e-8],[1540,5.5e-8],[1550,5.2e-8],[1560,5e-8],[1570,4.8e-8],[1580,4.6e-8],[1590,4.4e-8],[1600,4.3e-8],[1610,4.2e-8],[1620,4.1e-8],[1630,4.2e-8],[1638,6e-8],[1644,2.5e-7],[1650,2e-6],[1656,8e-6],[1662,7e-6],[1668,2e-6],[1676,6e-7],[1684,4e-7],[1692,3.5e-7],[1700,2.5e-7],[1706,1.0e-7],[1712,5.5e-8],[1720,4.2e-8],[1735,3.5e-8],[1750,3.2e-8],[1800,3.05e-8],[1850,2.95e-8],[1900,2.9e-8],[1950,2.85e-8],[2000,2.82e-8],[2050,2.8e-8],[2100,2.78e-8],[2150,2.76e-8],[2200,2.75e-8]];

// ---------------- STYLES ----------------
const styles = [
  { color: "#cc1010", dash: null,      width: 2 },
  { color: "#2fc42f", dash: "6,6",     width: 2 },
  { color: "#2a2ad0", dash: "9,3",     width: 2 },
  { color: "#000000", dash: "4,1.5,1,1.5", width: 1.5 }
];

const svg = d3.select("#chart");
const FONT = "'Liberation Sans', Arial, Helvetica, sans-serif";

function panel(cfg) {
  const x = d3.scaleLinear().domain([-500, 2500]).range([cfg.x0, cfg.x1]);
  const y = d3.scaleLog().domain([1e-8, 1e-2]).range([cfg.yb, cfg.yt]);
  const g = svg.append("g");

  // data lines
  const line = d3.line().x(d => x(d[0])).y(d => y(d[1]));
  cfg.series.forEach((s, i) => {
    const st = styles[i];
    g.append("path").datum(s)
      .attr("fill", "none")
      .attr("stroke", st.color)
      .attr("stroke-width", st.width)
      .attr("stroke-linejoin", "round")
      .attr("stroke-dasharray", st.dash)
      .attr("d", line);
  });

  // minor x ticks
  const minorX = d3.range(-400, 2500, 100).filter(v => v % 500 !== 0);
  const gxm = g.append("g").attr("transform", `translate(0,${cfg.yb})`)
    .call(d3.axisBottom(x).tickValues(minorX).tickSize(-6).tickFormat(""));
  gxm.select(".domain").remove();
  gxm.selectAll("line").attr("stroke", "#555").attr("stroke-width", 1);

  // major x axis
  const gx = g.append("g").attr("transform", `translate(0,${cfg.yb})`)
    .call(d3.axisBottom(x).tickValues(xTicksMajor).tickSize(-10).tickSizeOuter(0)
      .tickPadding(6).tickFormat(d => String(d)));
  gx.select(".domain").attr("stroke", "#111").attr("stroke-width", 2.2);
  gx.selectAll("line").attr("stroke", "#111").attr("stroke-width", 2);
  gx.selectAll("text").attr("fill", "#a3a3a3").attr("font-size", 15)
    .attr("font-family", FONT).attr("dy", "0.75em");

  // minor y ticks
  const minorY = [];
  yDecades.slice(0, -1).forEach(e => { for (let k = 2; k <= 9; k++) minorY.push(k * Math.pow(10, e)); });
  const gym = g.append("g").attr("transform", `translate(${cfg.x0},0)`)
    .call(d3.axisLeft(y).tickValues(minorY).tickSize(-5).tickFormat(""));
  gym.select(".domain").remove();
  gym.selectAll("line").attr("stroke", "#555").attr("stroke-width", 1);

  // major y axis
  const majorY = yDecades.map(e => Math.pow(10, e));
  const gy = g.append("g").attr("transform", `translate(${cfg.x0},0)`)
    .call(d3.axisLeft(y).tickValues(majorY).tickSize(-11).tickSizeOuter(0).tickFormat(""));
  gy.select(".domain").attr("stroke", "#111").attr("stroke-width", 2.2);
  gy.selectAll("line").attr("stroke", "#111").attr("stroke-width", 2);

  // y labels 10^e
  yDecades.forEach(e => {
    const t = g.append("text")
      .attr("x", cfg.x0 - 6).attr("y", y(Math.pow(10, e)) + 5)
      .attr("text-anchor", "end").attr("fill", "#a3a3a3")
      .attr("font-family", FONT).attr("font-size", 15);
    t.append("tspan").text("10");
    t.append("tspan").attr("dy", -6).attr("font-size", 9).text(String(e));
  });

  // axis titles
  g.append("text").attr("x", (cfg.x0 + cfg.x1) / 2 + 2).attr("y", 495)
    .attr("text-anchor", "middle").attr("font-family", FONT)
    .attr("font-weight", "bold").attr("font-size", 19).attr("fill", "#111").text(xLabel);
  g.append("text").attr("transform", `translate(${cfg.x0 - 57},233) rotate(-90)`)
    .attr("text-anchor", "middle").attr("font-family", FONT)
    .attr("font-weight", "bold").attr("font-size", 18).attr("fill", "#111").text(yLabel);

  // legend
  const rows = [27, 47.5, 68, 88];
  cfg.names.forEach((n, i) => {
    const st = styles[i];
    g.append("line").attr("x1", cfg.lx).attr("x2", cfg.lx + 75)
      .attr("y1", rows[i]).attr("y2", rows[i])
      .attr("stroke", st.color).attr("stroke-width", i === 3 ? 1.5 : 2)
      .attr("stroke-dasharray", st.dash);
    g.append("text").attr("x", cfg.lx + 90).attr("y", rows[i] + 6)
      .attr("font-family", FONT).attr("font-size", 16)
      .attr("letter-spacing", cfg.ls).attr("fill", "#333").text(n);
  });
}

panel({ x0: 77, x1: 551, yb: 449, yt: 15, series: [hllc1, hllc5, hllc10, hllc20], names: leftNames, lx: 345, ls: 1 });
panel({ x0: 654, x1: 1129, yb: 447, yt: 13, series: [hlle1, hlle5, hlle10, hlle20], names: rightNames, lx: 900, ls: 0.7 });
</script>
</body>
</html>
